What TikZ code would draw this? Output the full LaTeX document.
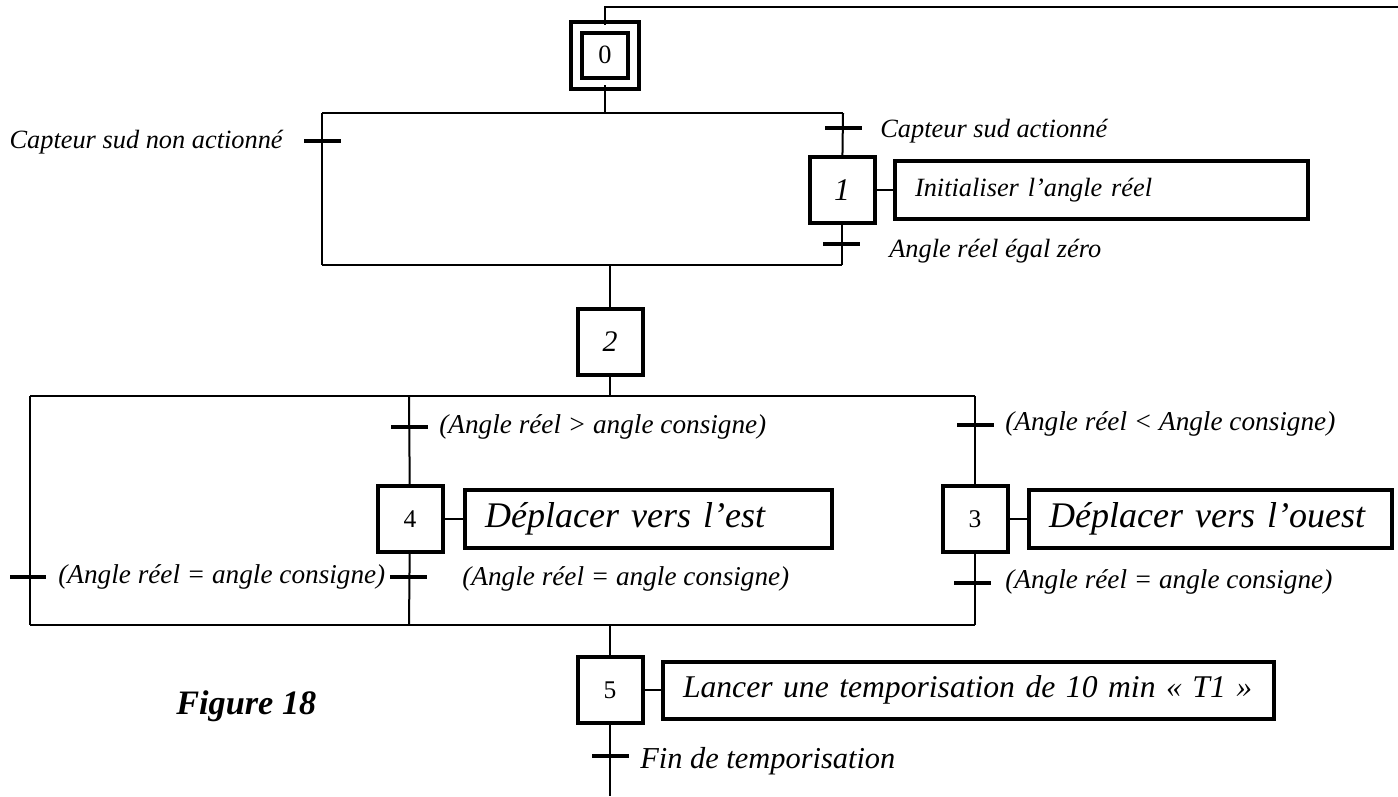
\documentclass[tikz,border=0pt]{standalone}
\usepackage{fontspec}
\setmainfont{Liberation Serif}
\tikzset{
  etape/.style={draw, line width=0.08cm, minimum width=1.3cm, minimum height=1.32cm, inner sep=0pt, font=\fontsize{14.5}{16}\selectfont},
  action/.style={draw, line width=0.08cm, anchor=west, minimum height=1.16cm, inner xsep=0.4cm, inner ysep=0pt, text width=#1, align=left, font=\fontsize{20.5}{24}\selectfont\itshape},
  barre/.style={fill=black, minimum width=0.74cm, minimum height=0.09cm, inner sep=0pt},
  recep/.style={anchor=base west, inner sep=0pt, font=\fontsize{15}{18}\selectfont\itshape},
  lien/.style={line width=0.04cm},
}
\begin{document}
\begin{tikzpicture}[x=0.02cm, y=-0.02cm]
    \useasboundingbox (0, 0) rectangle (1398, 796);

    \node[etape, double, double distance=0.14cm, minimum width=1.14cm, minimum height=1.12cm, font=\fontsize{15}{17}\selectfont] (e0) at (605, 55) {0};
    \coordinate (boucle) at (605, 7);
    \coordinate (boucled) at (1398, 7);
    \draw [lien] (boucled) -- (boucle) -- (e0);

    \coordinate (div0) at (605, 113);
    \coordinate (div0g) at (322, 113);
    \coordinate (div0d) at (843, 113);
    \coordinate (conv0g) at (322, 265);
    \coordinate (conv0d) at (842, 265);
    \coordinate (conv0) at (610, 265);
    \draw [lien] (e0) -- (div0);
    \draw [lien] (div0g) -- (div0d);
    \draw [lien] (conv0g) -- (conv0d);

    \node[barre] (t0g) at (322, 141) {};
    \node[recep, anchor=base east] (r0g) at (283, 148) {Capteur sud non actionné};
    \draw [lien] (div0g) -- (conv0g);

    \node[barre] (t01) at (843, 128) {};
    \node[recep] (r01) at (880, 137) {Capteur sud actionné};
    \node[etape, font=\fontsize{18}{20}\selectfont\itshape] (e1) at (842, 190) {1};
    \node[action=7.46cm, font=\fontsize{15}{18}\selectfont\itshape] (a1) at (893, 190) {Initialiser l’angle réel};
    \draw [lien] (e1.east) -- (a1.west);
    \node[barre] (t1) at (841, 244) {};
    \node[recep] (r1) at (889, 257) {Angle réel égal zéro};
    \draw [lien] (div0d) -- (e1);
    \draw [lien] (e1) -- (conv0d);

    \node[etape, font=\fontsize{17}{20}\selectfont\itshape] (e2) at (610, 342) {2};
    \draw [lien] (conv0) -- (e2);

    \coordinate (div2) at (610, 396);
    \coordinate (div2g) at (30, 396);
    \coordinate (div2m) at (409, 396);
    \coordinate (div2d) at (975, 396);
    \coordinate (conv2g) at (30, 625);
    \coordinate (conv2m) at (409, 625);
    \coordinate (conv2d) at (975, 625);
    \coordinate (conv2) at (610, 625);
    \draw [lien] (e2) -- (div2);
    \draw [lien] (div2g) -- (div2d);
    \draw [lien] (conv2g) -- (conv2d);

    \node[barre] (t2g) at (28, 577) {};
    \node[recep, font=\fontsize{15.5}{18}\selectfont\itshape] (r2g) at (58, 583) {(Angle réel = angle consigne)};
    \draw [lien] (div2g) -- (conv2g);

    \node[barre] (t24) at (409, 427) {};
    \node[recep, font=\fontsize{15.5}{18}\selectfont\itshape] (r24) at (439, 433) {(Angle réel > angle consigne)};
    \node[etape] (e4) at (410, 519) {4};
    \node[action=6.54cm] (a4) at (463, 519) {Déplacer vers l’est};
    \draw [lien] (e4.east) -- (a4.west);
    \node[barre] (t4) at (408, 577) {};
    \node[recep, font=\fontsize{15.5}{18}\selectfont\itshape] (r4) at (462, 585) {(Angle réel = angle consigne)};
    \draw [lien] (div2m) -- (e4);
    \draw [lien] (e4) -- (conv2m);

    \node[barre] (t23) at (975, 425) {};
    \node[recep, font=\fontsize{15.5}{18}\selectfont\itshape] (r23) at (1005, 430) {(Angle réel < Angle consigne)};
    \node[etape] (e3) at (975, 519) {3};
    \node[action=6.46cm] (a3) at (1027, 519) {Déplacer vers l’ouest};
    \draw [lien] (e3.east) -- (a3.west);
    \node[barre] (t3) at (972, 583) {};
    \node[recep, font=\fontsize{15.5}{18}\selectfont\itshape] (r3) at (1005, 588) {(Angle réel = angle consigne)};
    \draw [lien] (div2d) -- (e3);
    \draw [lien] (e3) -- (conv2d);

    \node[etape] (e5) at (610, 690) {5};
    \node[action=11.42cm, minimum height=1.14cm, font=\fontsize{18}{22}\selectfont\itshape] (a5) at (661, 690) {Lancer une temporisation de 10 min « T1 »};
    \draw [lien] (e5.east) -- (a5.west);
    \draw [lien] (conv2) -- (e5);
    \node[barre] (t5) at (610, 756) {};
    \node[recep, font=\fontsize{17.3}{20}\selectfont\itshape] (r5) at (640, 768) {Fin de temporisation};
    \coordinate (fin) at (610, 796);
    \draw [lien] (e5) -- (fin);

    \node[anchor=base west, inner sep=0pt, font=\fontsize{19.5}{22}\selectfont\bfseries\itshape] (titre) at (176, 714) {Figure 18};
  \end{tikzpicture}
\end{document}
